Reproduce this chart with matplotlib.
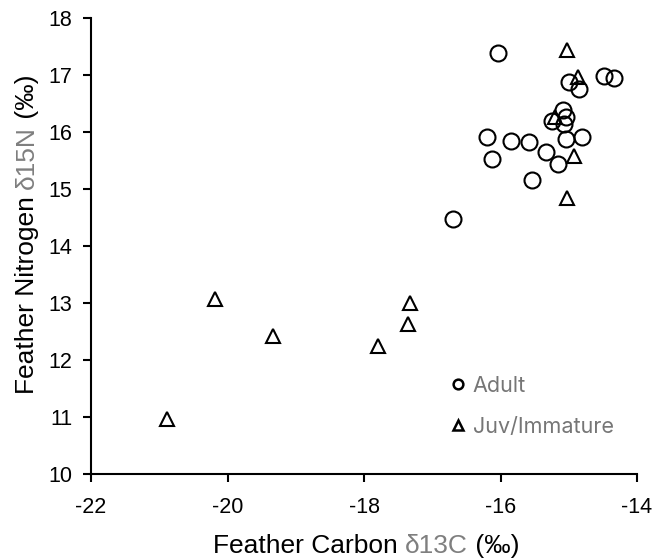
import matplotlib
matplotlib.use("Agg")
import matplotlib.pyplot as plt
from matplotlib.lines import Line2D

# Adult
adult_c = [-16.04, -14.99, -14.85, -14.48, -14.34, -15.09, -15.04, -15.24, -15.07,
           -16.20, -15.85, -15.58, -15.04, -14.81, -15.33, -16.13, -15.16, -15.54, -16.70]
adult_n = [17.38, 16.88, 16.75, 16.99, 16.94, 16.39, 16.26, 16.20, 16.14,
           15.92, 15.85, 15.83, 15.87, 15.92, 15.65, 15.52, 15.43, 15.15, 14.47]
# Juvenile / immature
juv_c = [-15.02, -14.87, -15.20, -14.93, -15.02, -20.19, -19.33, -17.80, -17.35, -17.32, -20.88]
juv_n = [17.43, 16.97, 16.26, 15.58, 14.84, 13.07, 12.42, 12.25, 12.64, 13.00, 10.96]

xticks = [-22, -20, -18, -16, -14]
yticks = [10, 11, 12, 13, 14, 15, 16, 17, 18]

plt.rcParams['font.family'] = ['Liberation Sans', 'DejaVu Sans']

W, H = 656, 558
fig = plt.figure(figsize=(W / 100, H / 100), dpi=100)
ax = fig.add_axes([91 / W, 1 - 474 / H, (637 - 91) / W, (474 - 18) / H])

ax.plot(adult_c, adult_n, linestyle='none', marker='o', markersize=11.5,
        markerfacecolor='none', markeredgecolor='black', markeredgewidth=1.5, zorder=3)
ax.plot(juv_c, juv_n, linestyle='none', marker='^', markersize=10,
        markerfacecolor='none', markeredgecolor='black', markeredgewidth=1.5, zorder=3)

ax.set_xlim(-22, -14)
ax.set_ylim(10, 18)
ax.set_xticks(xticks)
ax.set_yticks(yticks)
ax.set_xticklabels([str(t) for t in xticks])
ax.set_yticklabels([str(t) for t in yticks])
for s in ['top', 'right']:
    ax.spines[s].set_visible(False)
for s in ['left', 'bottom']:
    ax.spines[s].set_linewidth(1.5)
ax.tick_params(direction='out', length=5.5, width=1.5, labelsize=15.5, colors='black')
ax.tick_params(axis='x', pad=11)
ax.tick_params(axis='y', pad=8)

# Legend
handles = [
    Line2D([], [], linestyle='none', marker='o', markersize=7, markerfacecolor='none',
           markeredgecolor='black', markeredgewidth=1.8),
    Line2D([], [], linestyle='none', marker='^', markersize=6.5, markerfacecolor='none',
           markeredgecolor='black', markeredgewidth=1.8),
]
leg = ax.legend(handles, ['Adult', 'Juv/Immature'], loc='upper left',
                bbox_to_anchor=((450 - 91) / (637 - 91), (474 - 375.5) / (474 - 18)),
                frameon=False, handlelength=0.7, handletextpad=0.35, labelspacing=1.0,
                borderpad=0, borderaxespad=0,
                prop={'family': ['Inter', 'DejaVu Sans'], 'size': 15.5})
for t in leg.get_texts():
    t.set_color('#767676')

# Axis labels with grey middle part
gray = '#7f7f7f'
fs = 19
fig.canvas.draw()
r = fig.canvas.get_renderer()
# x label
t1 = fig.text(0, 0, 'Feather Carbon ', fontsize=fs, color='black', ha='left', va='baseline')
t2 = fig.text(0, 0, 'δ13C', fontsize=fs, color=gray, ha='left', va='baseline')
t3 = fig.text(0, 0, ' (‰)', fontsize=fs, color='black', ha='left', va='baseline')
ws = [t.get_window_extent(r).width for t in (t1, t2, t3)]
x0 = 213
ybase = 1 - 553 / H
pos = x0
for t, w in zip((t1, t2, t3), ws):
    t.set_position((pos / W, ybase))
    pos += w

# y label (rotated, reading bottom to top)
u1 = fig.text(0, 0, 'Feather Nitrogen ', fontsize=fs, color='black', rotation=90,
              ha='left', va='baseline', rotation_mode='anchor')
u2 = fig.text(0, 0, 'δ15N', fontsize=fs, color=gray, rotation=90,
              ha='left', va='baseline', rotation_mode='anchor')
u3 = fig.text(0, 0, ' (‰)', fontsize=fs, color='black', rotation=90,
              ha='left', va='baseline', rotation_mode='anchor')
hs = [t.get_window_extent(r).height for t in (u1, u2, u3)]
xb = 34
pos = H - 394
for t, h in zip((u1, u2, u3), hs):
    t.set_position((xb / W, pos / H))
    pos += h

fig.savefig('out.png', dpi=100)
